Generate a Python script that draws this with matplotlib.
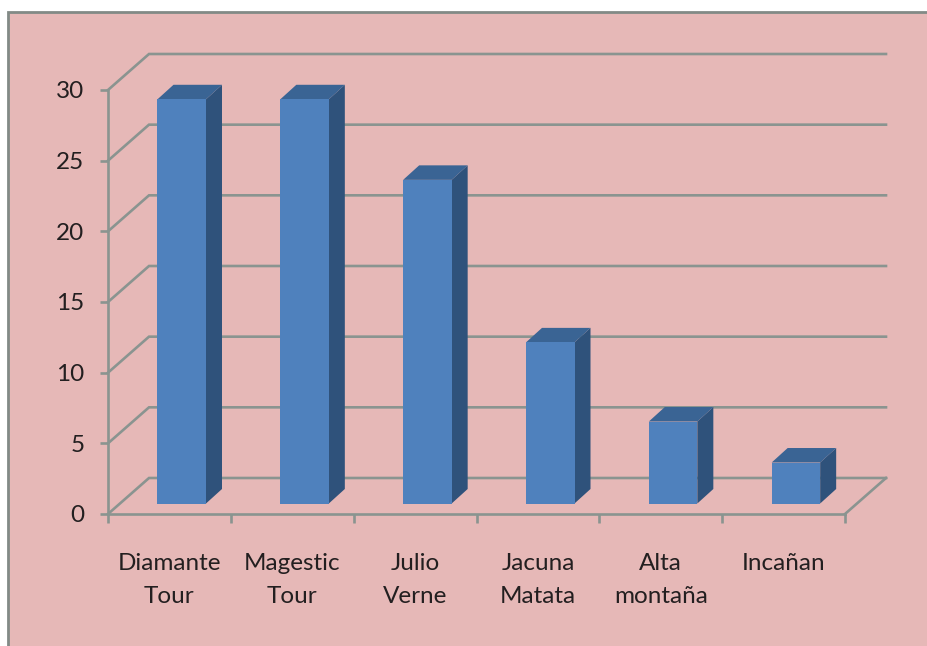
import matplotlib
matplotlib.use("Agg")
import matplotlib.pyplot as plt
from matplotlib.patches import Polygon, Rectangle
from matplotlib.lines import Line2D

categories = ["Diamante\nTour", "Magestic\nTour", "Julio\nVerne", "Jacuna\nMatata", "Alta\nmontaña", "Incañan"]
values = [28.6, 28.6, 22.9, 11.4, 5.8, 2.9]
y_ticks = [0, 5, 10, 15, 20, 25, 30]

W, H = 928, 646
BG = "#E6B8B7"
GRID = "#8A9490"
FRONT = "#4F81BD"
SIDE = "#2F527B"
TOP = "#3A6494"
TXT = "#231F20"

plt.rcParams["font.family"] = ["Lato", "DejaVu Sans"]
fig = plt.figure(figsize=(W / 100, H / 100), dpi=100, facecolor="white")
fig.add_artist(Rectangle((8 / W, -0.02), 1.02, 1.02 - 12 / H, transform=fig.transFigure,
                         facecolor=BG, edgecolor="#828A86", linewidth=2, zorder=-5))

L, R, T, B = 108, 845, 90, 514
ax = fig.add_axes([L / W, 1 - B / H, (R - L) / W, (B - T) / H], zorder=2)
ax.patch.set_alpha(0)
n = len(categories)
ax.set_xlim(0, n)
ax.set_ylim(0, 30)

sx = n / (R - L)      # data units per pixel, x
sy = 30 / (B - T)     # data units per pixel, y
wall_dx, wall_dy = 41 * sx, 36 * sy
bar_x0, bar_dy = 49.5 * sx, 10.5 * sy   # front of the bars, measured from category start
bar_w = 48.5 * sx
dep_dx, dep_dy = 16 * sx, 14.5 * sy

# walls and floor
for v in y_ticks:
    ax.add_line(Line2D([0, wall_dx, n + wall_dx], [v, v + wall_dy, v + wall_dy],
                       color=GRID, lw=1.9, clip_on=False, zorder=1, solid_joinstyle="miter"))
ax.add_line(Line2D([n, n + wall_dx], [0, wall_dy], color=GRID, lw=1.9, clip_on=False, zorder=1))

# bars
for i, v in enumerate(values):
    x0 = i + bar_x0
    x1 = x0 + bar_w
    ytop = v + bar_dy
    ax.bar(x0, v, width=bar_w, bottom=bar_dy, align="edge", color=FRONT, zorder=4, linewidth=0, clip_on=False)
    ax.add_patch(Polygon([(x1, bar_dy), (x1 + dep_dx, bar_dy + dep_dy),
                          (x1 + dep_dx, ytop + dep_dy), (x1, ytop)],
                         facecolor=SIDE, edgecolor="none", zorder=3, clip_on=False))
    ax.add_patch(Polygon([(x0, ytop), (x0 + dep_dx, ytop + dep_dy),
                          (x1 + dep_dx, ytop + dep_dy), (x1, ytop)],
                         facecolor=TOP, edgecolor="none", zorder=3, clip_on=False))

# axes
for s in ("top", "right"):
    ax.spines[s].set_visible(False)
for s in ("left", "bottom"):
    ax.spines[s].set_color(GRID)
    ax.spines[s].set_linewidth(1.9)
ax.set_yticks(y_ticks)
ax.set_xticks(range(n + 1))
ax.set_xticklabels([])
ax.set_xticks([i + 0.5 for i in range(n)], labels=categories, minor=True)
ax.tick_params(axis="y", length=6, width=1.9, color=GRID, labelsize=17.5, labelcolor=TXT, pad=11)
ax.tick_params(axis="x", which="major", length=6.5, width=1.9, color=GRID)
ax.tick_params(axis="x", which="minor", length=0, labelsize=17.5, labelcolor=TXT, pad=28)
for lab in ax.get_xminorticklabels():
    lab.set_linespacing(1.7)

fig.savefig("out.png", dpi=100, facecolor="white")
